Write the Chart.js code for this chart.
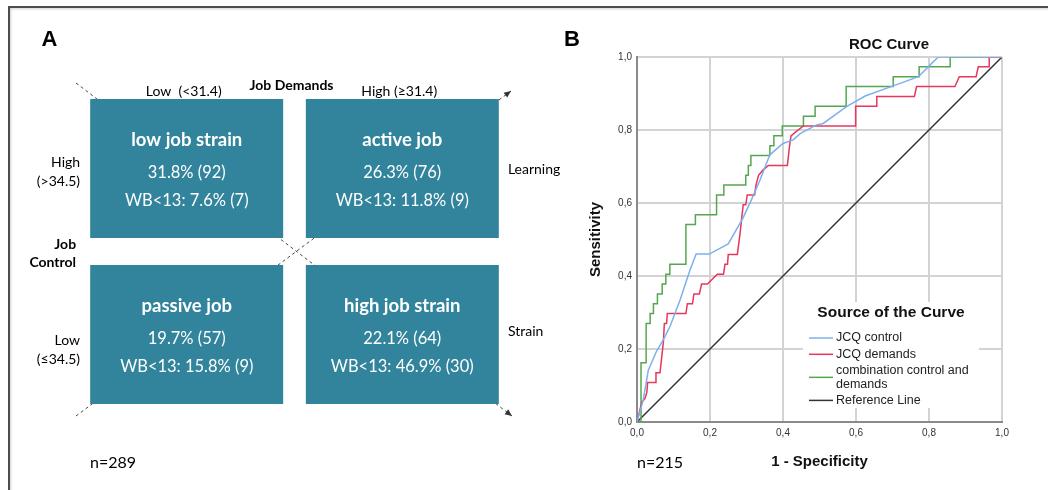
<!DOCTYPE html>
<html>
<head>
<meta charset="utf-8">
<script src="https://cdn.jsdelivr.net/npm/chart.js@4.4.1/dist/chart.umd.min.js"></script>
<style>
  html, body { margin: 0; padding: 0; background: #fff; }
  #page { position: relative; width: 1048px; height: 490px; overflow: hidden; }
  #frame { position: absolute; left: 8px; top: 6px; right: -10px; bottom: -10px;
           border-top: 2px solid #4d4d4d; border-left: 2px solid #4d4d4d;
           box-shadow: inset 1px 1px 3px rgba(0,0,0,0.18); }
  #chartA { position: absolute; left: 0; top: 0; }
  #chartB { position: absolute; left: 560px; top: 0; }
</style>
</head>
<body>
<div id="page">
  <div id="frame"></div>
  <canvas id="chartA" width="560" height="490"></canvas>
  <canvas id="chartB" width="488" height="490"></canvas>
</div>
<script>
// ---- Panel A: job strain model ----
const demandLabels = ['Low  (<31.4)', 'High (≥31.4)'];
const controlLabels = [['High', '(>34.5)'], ['Low', '(≤34.5)']];
const poleLabels = ['Learning', 'Strain'];
const quadrantNames = [['low job strain', 'active job'], ['passive job', 'high job strain']];
const quadrantPct = [[31.8, 26.3], [19.7, 22.1]];
const quadrantN = [[92, 76], [57, 64]];
const wbPct = [[7.6, 11.8], [15.8, 46.9]];
const wbN = [[7, 9], [9, 30]];
const sampleA = 289;

// ---- Panel B: ROC curves ----
const rocLabels = ['JCQ control', 'JCQ demands', 'combination control and demands', 'Reference Line'];
const fprControl = [0, 0.017, 0.031, 0.054, 0.072, 0.09, 0.118, 0.145, 0.162, 0.198, 0.25, 0.291, 0.314, 0.337, 0.364, 0.40, 0.428, 0.447, 0.492, 0.51, 0.574, 0.625, 0.702, 0.771, 0.798, 0.825, 1];
const tprControl = [0, 0.06, 0.142, 0.195, 0.225, 0.261, 0.334, 0.416, 0.46, 0.46, 0.488, 0.56, 0.61, 0.663, 0.732, 0.763, 0.773, 0.79, 0.814, 0.818, 0.864, 0.893, 0.921, 0.946, 0.973, 1, 1];
const fprDemands = [0, 0.013, 0.022, 0.027, 0.029, 0.052, 0.052, 0.063, 0.066, 0.072, 0.075, 0.081, 0.083, 0.134, 0.138, 0.152, 0.156, 0.171, 0.177, 0.193, 0.22, 0.237, 0.241, 0.248, 0.25, 0.275, 0.282, 0.291, 0.298, 0.302, 0.322, 0.326, 0.333, 0.345, 0.36, 0.412, 0.418, 0.422, 0.435, 0.456, 0.599, 0.599, 0.657, 0.657, 0.76, 0.766, 0.871, 0.883, 0.929, 0.935, 0.965, 0.965, 1];
const tprDemands = [0, 0.054, 0.065, 0.081, 0.108, 0.108, 0.135, 0.135, 0.162, 0.216, 0.27, 0.27, 0.297, 0.297, 0.324, 0.324, 0.351, 0.351, 0.378, 0.378, 0.405, 0.405, 0.432, 0.432, 0.459, 0.459, 0.514, 0.595, 0.595, 0.622, 0.622, 0.649, 0.676, 0.69, 0.703, 0.703, 0.757, 0.784, 0.795, 0.811, 0.811, 0.865, 0.865, 0.892, 0.892, 0.919, 0.919, 0.946, 0.946, 0.973, 0.973, 1, 1];
const fprCombo = [0, 0.011, 0.011, 0.025, 0.025, 0.036, 0.036, 0.045, 0.045, 0.056, 0.056, 0.069, 0.069, 0.079, 0.079, 0.09, 0.09, 0.134, 0.134, 0.16, 0.16, 0.218, 0.218, 0.238, 0.238, 0.298, 0.298, 0.305, 0.305, 0.312, 0.312, 0.364, 0.364, 0.375, 0.375, 0.398, 0.398, 0.456, 0.456, 0.488, 0.488, 0.573, 0.573, 0.702, 0.702, 0.773, 0.773, 0.858, 0.858, 1];
const tprCombo = [0, 0, 0.162, 0.162, 0.27, 0.27, 0.297, 0.297, 0.324, 0.324, 0.351, 0.351, 0.378, 0.378, 0.405, 0.405, 0.432, 0.432, 0.541, 0.541, 0.568, 0.568, 0.622, 0.622, 0.649, 0.649, 0.676, 0.676, 0.703, 0.703, 0.73, 0.73, 0.757, 0.757, 0.784, 0.784, 0.811, 0.811, 0.838, 0.838, 0.865, 0.865, 0.919, 0.919, 0.946, 0.946, 0.973, 0.973, 1, 1];
const fprRef = [0, 1];
const tprRef = [0, 1];
const sampleB = 215;

const SANS = "'Liberation Sans', Arial, sans-serif";
const CAL = "Lato, 'Open Sans', sans-serif";
const TEAL = '#31849B';

function zip(xs, ys) { return xs.map((x, i) => ({ x: x, y: ys[i] })); }

function dashedArrow(ctx, x0, y0, x1, y1, head) {
    ctx.save();
    ctx.strokeStyle = '#444';
    ctx.lineWidth = 1;
    ctx.setLineDash([3, 3]);
    ctx.beginPath();
    ctx.moveTo(x0, y0);
    ctx.lineTo(x1, y1);
    ctx.stroke();
    if (head) {
        const a = Math.atan2(y1 - y0, x1 - x0);
        ctx.setLineDash([]);
        ctx.fillStyle = '#333';
        ctx.beginPath();
        ctx.moveTo(x1, y1);
        ctx.lineTo(x1 - 7 * Math.cos(a) + 3 * Math.sin(a), y1 - 7 * Math.sin(a) - 3 * Math.cos(a));
        ctx.lineTo(x1 - 7 * Math.cos(a) - 3 * Math.sin(a), y1 - 7 * Math.sin(a) + 3 * Math.cos(a));
        ctx.closePath();
        ctx.fill();
    }
    ctx.restore();
}

// box geometry from the bar elements (border is used as the gap between rows)
function boxOf(el, bw) {
    const p = el.getProps(['x', 'y', 'base', 'width'], true);
    return {
        cx: p.x,
        left: p.x - p.width / 2,
        right: p.x + p.width / 2,
        top: Math.min(p.y, p.base) + bw.top,
        bottom: Math.max(p.y, p.base) - bw.bottom
    };
}

const quadrantText = {
    id: 'quadrantText',
    beforeDatasetsDraw(chart) {
        const a = chart.chartArea;
        dashedArrow(chart.ctx, a.left - 3, a.top - 3, a.right + 2, a.bottom - 2, true);
        dashedArrow(chart.ctx, a.left - 3, a.bottom - 2, a.right + 1, a.top + 5, true);
    },
    afterDatasetsDraw(chart) {
        const ctx = chart.ctx;
        const boxes = chart.data.datasets.map((ds, r) =>
            chart.getDatasetMeta(r).data.map(el => boxOf(el, ds.borderWidth)));
        ctx.save();
        ctx.textBaseline = 'middle';
        ctx.textAlign = 'center';
        ctx.fillStyle = '#fff';
        boxes.forEach((row, r) => row.forEach((b, c) => {
            const cy = (b.top + b.bottom) / 2;
            ctx.font = 'bold 18.5px ' + CAL;
            ctx.fillText(quadrantNames[r][c], b.cx, cy - 28);
            ctx.font = '16.5px ' + CAL;
            ctx.fillText(quadrantPct[r][c].toFixed(1) + '% (' + quadrantN[r][c] + ')', b.cx, cy + 4);
            ctx.fillText('WB<13: ' + wbPct[r][c].toFixed(1) + '% (' + wbN[r][c] + ')', b.cx, cy + 32);
        }));

        ctx.fillStyle = '#000';
        // column labels (job demands)
        const top = boxes[0][0].top;
        ctx.font = '14px ' + CAL;
        boxes[0].forEach((b, c) => ctx.fillText(demandLabels[c], b.cx - 3, top - 8));
        ctx.font = 'bold 14px ' + CAL;
        ctx.fillText('Job Demands', (boxes[0][0].right + boxes[0][1].left) / 2 - 3, top - 14);

        // row labels (job control)
        ctx.textAlign = 'right';
        const lx = boxes[0][0].left - 10;
        const rowShift = [63, 75];
        ctx.font = '14px ' + CAL;
        boxes.forEach((row, r) => {
            ctx.fillText(controlLabels[r][0], lx, row[0].top + rowShift[r]);
            ctx.fillText(controlLabels[r][1], lx, row[0].top + rowShift[r] + 19);
        });
        const midY = (boxes[0][0].bottom + boxes[1][0].top) / 2;
        ctx.font = 'bold 14px ' + CAL;
        ctx.fillText('Job', lx - 4, midY - 7);
        ctx.fillText('Control', lx - 4, midY + 11);

        // pole labels on the right
        ctx.textAlign = 'left';
        ctx.font = '14px ' + CAL;
        boxes.forEach((row, r) => {
            const b = row[row.length - 1];
            ctx.fillText(poleLabels[r], b.right + 9, (b.top + b.bottom) / 2 + (r === 0 ? 1 : -3));
        });

        ctx.font = '16px ' + CAL;
        ctx.fillText('n=' + sampleA, boxes[1][0].left, 463);

        ctx.textAlign = 'center';
        ctx.font = 'bold 22px ' + SANS;
        ctx.fillText('A', 49.5, 40);
        ctx.restore();
    }
};

new Chart(document.getElementById('chartA'), {
    type: 'bar',
    data: {
        labels: demandLabels,
        datasets: controlLabels.map(lab => ({
            label: lab.join(' '),
            data: demandLabels.map(() => 1),
            backgroundColor: TEAL,
            borderColor: 'rgba(0,0,0,0)',
            borderWidth: { top: 13, bottom: 14, left: 0, right: 0 },
            borderSkipped: false,
            barPercentage: 0.897,
            categoryPercentage: 1
        }))
    },
    options: {
        responsive: false,
        animation: false,
        events: [],
        layout: { padding: { left: 79, right: 50, top: 86, bottom: 72 } },
        plugins: { legend: { display: false }, tooltip: { enabled: false } },
        scales: {
            x: { stacked: true, display: false },
            y: { stacked: true, display: false, reverse: true, min: 0, max: 2 }
        }
    },
    plugins: [quadrantText]
});

// ---- ROC chart ----
function wrapText(ctx, text, maxW) {
    const words = text.split(' ');
    const lines = [];
    let cur = '';
    words.forEach(w => {
        const t = cur ? cur + ' ' + w : w;
        if (ctx.measureText(t).width > maxW && cur) { lines.push(cur); cur = w; } else { cur = t; }
    });
    lines.push(cur);
    return lines;
}

const rocDecor = {
    id: 'rocDecor',
    afterDatasetsDraw(chart) {
        const ctx = chart.ctx;
        const a = chart.chartArea;
        const bx = a.left + 166, by = a.top + 245, bw = 176, bh = 106;
        ctx.save();
        ctx.fillStyle = '#fff';
        ctx.fillRect(bx, by, bw, bh);
        ctx.fillStyle = '#111';
        ctx.textBaseline = 'middle';
        ctx.textAlign = 'center';
        ctx.font = 'bold 15.5px ' + SANS;
        ctx.fillText('Source of the Curve', bx + 88, by + 11);
        ctx.textAlign = 'left';
        ctx.font = '12.5px ' + SANS;
        let y = by + 36;
        chart.data.datasets.forEach(ds => {
            const lines = wrapText(ctx, ds.label, 140);
            const my = y + (lines.length - 1) * 13.5 / 2;
            ctx.strokeStyle = ds.borderColor;
            ctx.lineWidth = 1.5;
            ctx.beginPath();
            ctx.moveTo(bx + 6, my);
            ctx.lineTo(bx + 30, my);
            ctx.stroke();
            ctx.fillStyle = '#222';
            lines.forEach((l, i) => ctx.fillText(l, bx + 33, y + i * 13.5));
            y += (lines.length - 1) * 13.5 + 16.3;
        });
        ctx.restore();
    },
    afterDraw(chart) {
        const ctx = chart.ctx;
        ctx.save();
        ctx.textBaseline = 'middle';
        ctx.textAlign = 'center';
        ctx.fillStyle = '#111';
        ctx.font = 'bold 15px ' + SANS;
        ctx.fillText('ROC Curve', 329, 45);
        ctx.fillStyle = '#000';
        ctx.font = 'bold 22px ' + SANS;
        ctx.fillText('B', 12, 40);
        ctx.textAlign = 'left';
        ctx.font = '16px ' + CAL;
        ctx.fillText('n=' + sampleB, chart.chartArea.left, 463);
        ctx.restore();
    }
};

const tickFmt = v => v.toFixed(1).replace('.', ',');
const lineStyle = { showLine: true, pointRadius: 0, borderWidth: 1.5, tension: 0, fill: false };

new Chart(document.getElementById('chartB'), {
    type: 'scatter',
    data: {
        datasets: [
            Object.assign({ label: rocLabels[0], data: zip(fprControl, tprControl), borderColor: '#7cb0ee' }, lineStyle),
            Object.assign({ label: rocLabels[1], data: zip(fprDemands, tprDemands), borderColor: '#e6375c' }, lineStyle),
            Object.assign({ label: rocLabels[2], data: zip(fprCombo, tprCombo), borderColor: '#56a650' }, lineStyle),
            Object.assign({ label: rocLabels[3], data: zip(fprRef, tprRef), borderColor: '#333333', borderWidth: 1.2 }, lineStyle)
        ]
    },
    options: {
        responsive: false,
        animation: false,
        events: [],
        layout: { padding: { left: 0, top: 57, right: 46, bottom: 0 } },
        plugins: { legend: { display: false }, tooltip: { enabled: false } },
        scales: {
            x: {
                type: 'linear', min: 0, max: 1,
                ticks: { stepSize: 0.2, callback: tickFmt, color: '#333', padding: 5, font: { family: SANS, size: 10 } },
                grid: { color: '#d3d3d3', lineWidth: 2, drawTicks: false },
                border: { color: '#8a8a8a', width: 2 },
                title: { display: true, text: '1 - Specificity', color: '#111', padding: { top: 0, bottom: 19 }, font: { family: SANS, size: 15, weight: 'bold' } },
                afterFit: s => { s.height = 68; }
            },
            y: {
                type: 'linear', min: 0, max: 1,
                ticks: { stepSize: 0.2, callback: tickFmt, color: '#333', padding: 5, font: { family: SANS, size: 10 } },
                grid: { color: '#d3d3d3', lineWidth: 2, drawTicks: false },
                border: { color: '#8a8a8a', width: 2 },
                title: { display: true, text: 'Sensitivity', color: '#111', padding: { top: 27, bottom: 0 }, font: { family: SANS, size: 15, weight: 'bold' } },
                afterFit: s => { s.width = 77; }
            }
        }
    },
    plugins: [rocDecor]
});
</script>
</body>
</html>
